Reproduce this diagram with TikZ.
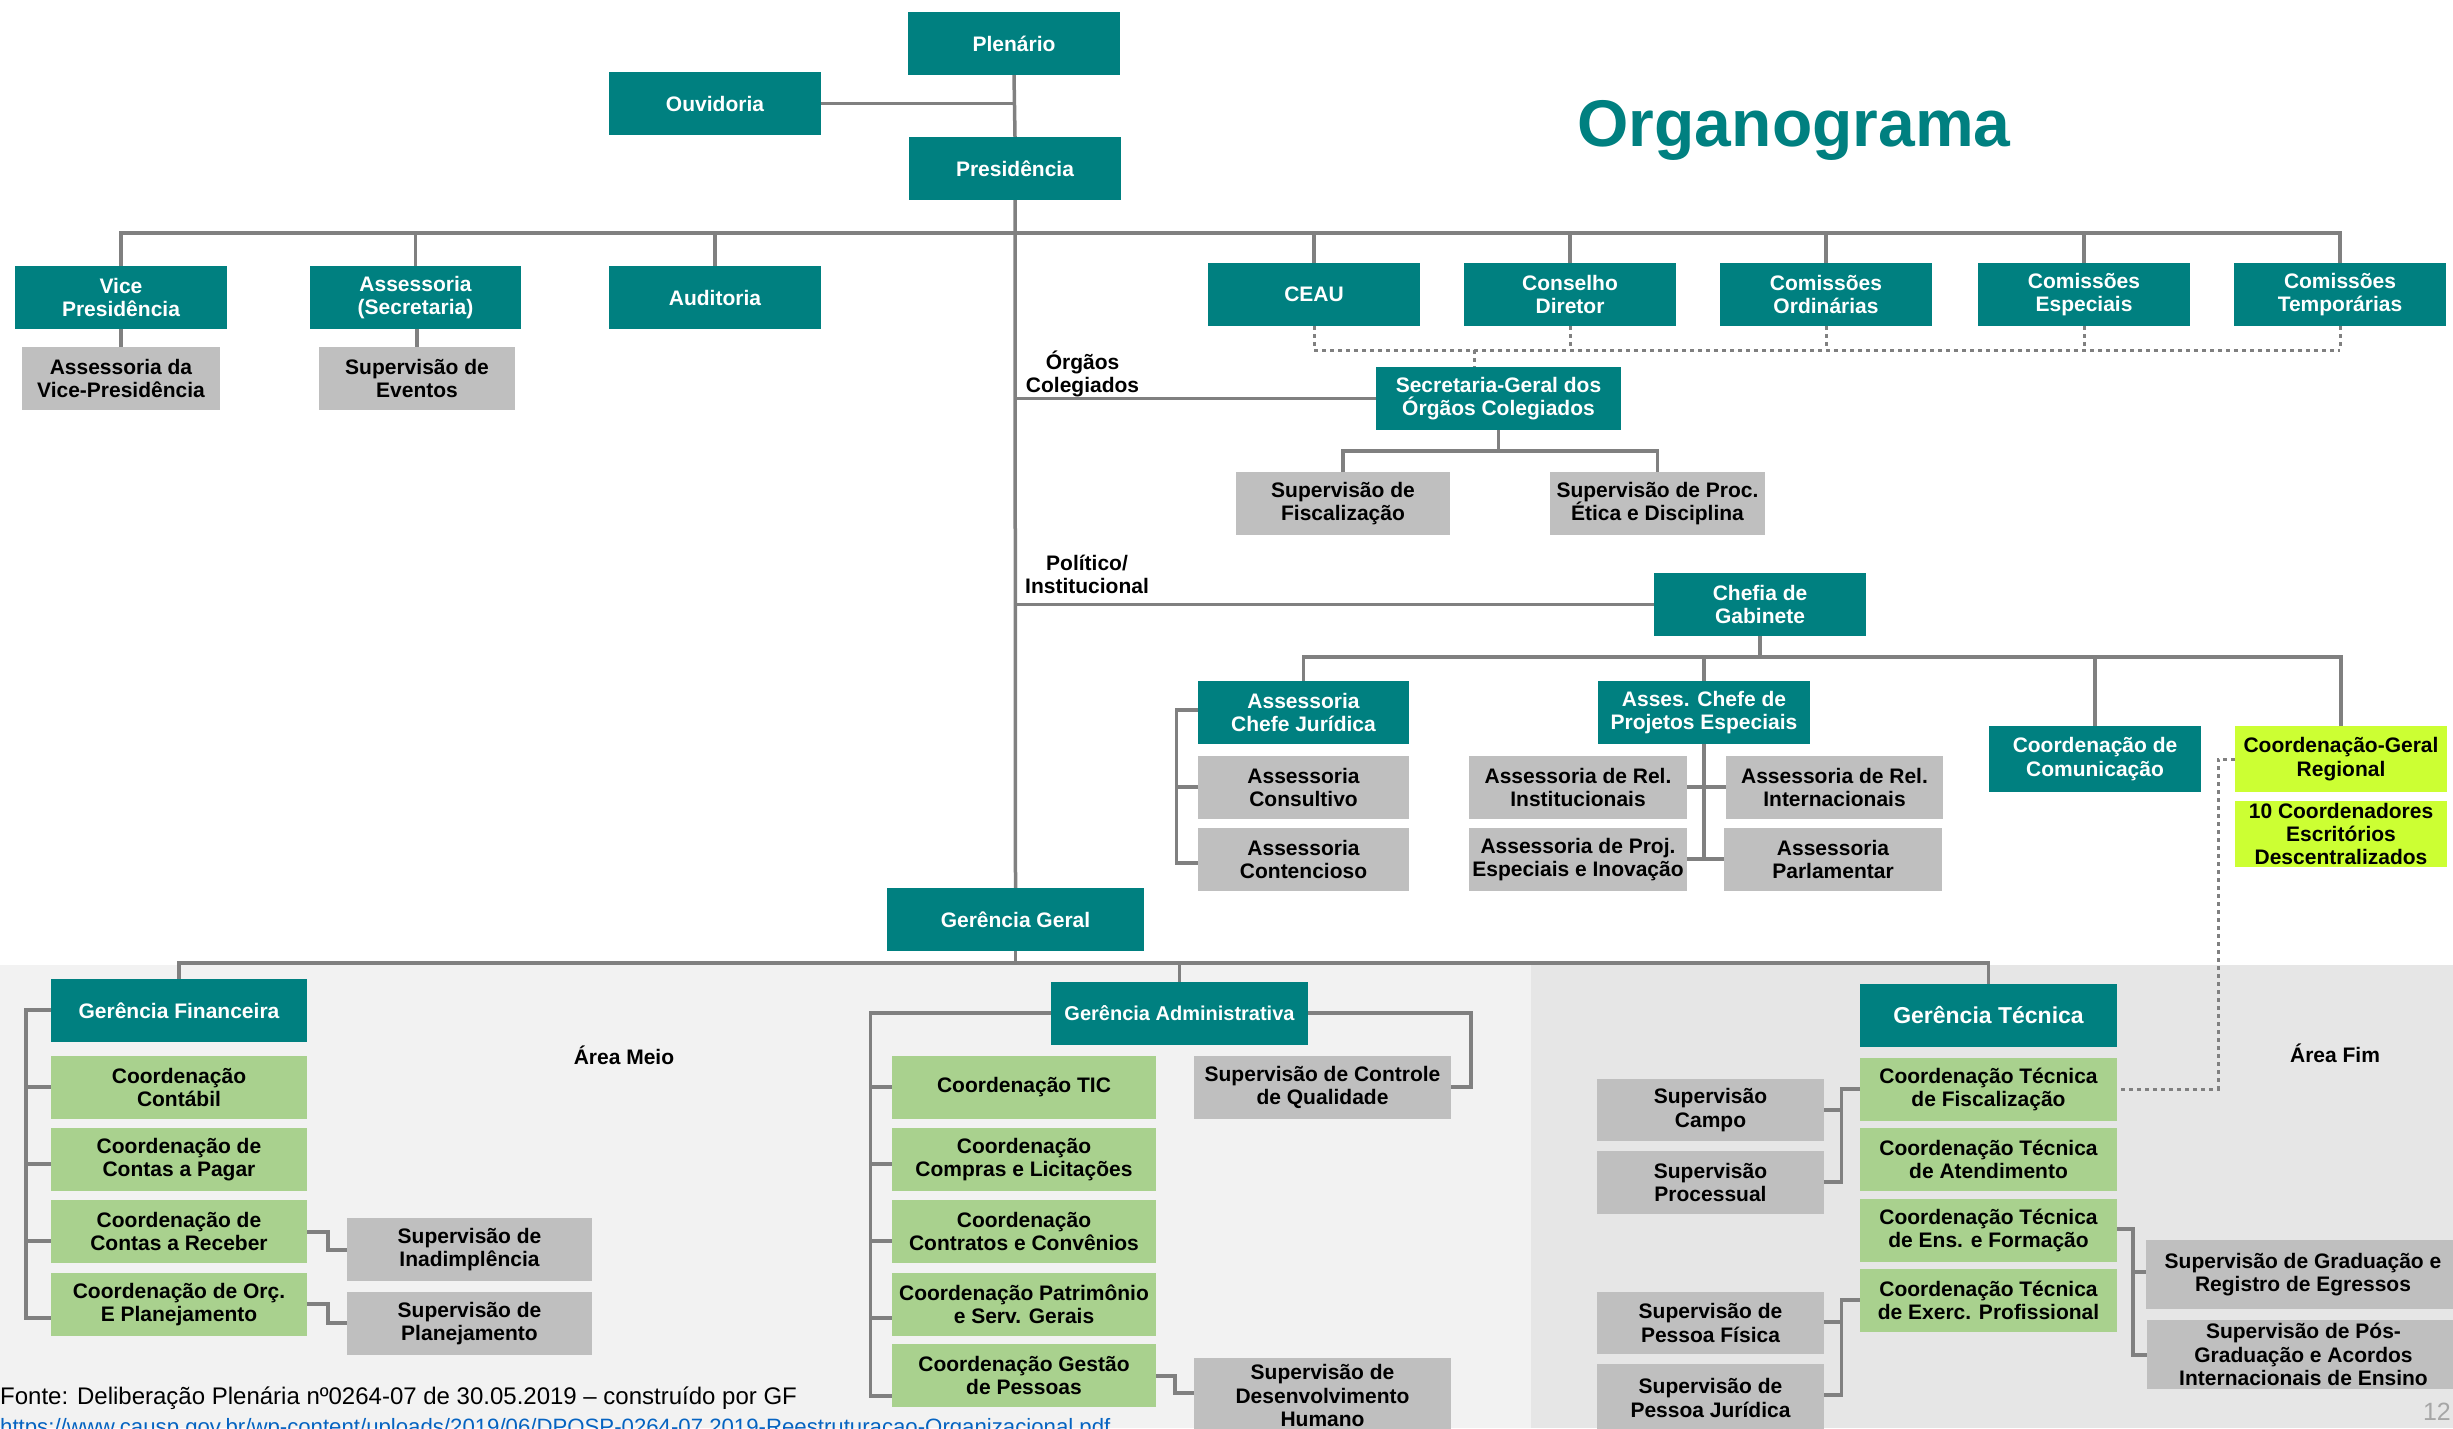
\documentclass[tikz,border=0pt]{standalone}
\usepackage{fontspec}
\setmainfont{Liberation Sans}
\definecolor{cteal}{RGB}{0,128,128}
\definecolor{cgray}{RGB}{191,191,191}
\definecolor{cgreen}{RGB}{169,209,142}
\definecolor{clime}{RGB}{204,255,51}
\definecolor{cline}{RGB}{128,128,128}
\definecolor{bgleft}{RGB}{242,242,242}
\definecolor{bgright}{RGB}{230,230,230}
\definecolor{curl}{RGB}{5,99,193}
\definecolor{cpage}{RGB}{166,166,166}
\newcommand\bx[6]{\node[#1, minimum width={(#4)-(#2)}, minimum height={(#5)-(#3)}] (#6) at ({((#2)+(#4))/2},{((#3)+(#5))/2})}
\tikzset{
  bfont/.style={font=\bfseries\fontsize{21}{23.3}\selectfont},
  basebox/.style={bfont, inner sep=0pt, align=center},
  tbox/.style={basebox, fill=cteal, text=white},
  gbox/.style={basebox, fill=cgray, text=black},
  grbox/.style={basebox, fill=cgreen, text=black},
  lbox/.style={basebox, fill=clime, text=black},
  lbl/.style={bfont, inner sep=0pt, align=center, text=black},
  conn/.style={draw=cline, line width=3.5pt},
  dotl/.style={draw=cline, line width=3pt, dash pattern=on 3.5pt off 4.5pt},
}
\begin{document}
\begin{tikzpicture}[x=1pt,y=-1pt]
\useasboundingbox (0,0) rectangle (2453,1428);
\clip (0,0) rectangle (2453,1428);
\fill[white] (0,0) rectangle (2453,1428);
\fill[bgleft] (0,965) rectangle (1531,1428);
\fill[bgright] (1531,965) rectangle (2453,1428);

% title
\node[font=\bfseries\fontsize{66}{70}\selectfont, text=cteal, anchor=base, inner sep=0pt] (title) at (1794,146) {Organograma};

% top
\bx{tbox}{908}{12}{1120}{75}{plen} {Plenário};
\bx{tbox}{609}{72}{821}{135}{ouv} {Ouvidoria};
\bx{tbox}{909}{137}{1121}{200}{pres} {Presidência};
\bx{tbox}{15}{266}{227}{329}{vice} {Vice\\Presidência};
\bx{tbox}{310}{266}{521}{329}{asse} {Assessoria\\(Secretaria)};
\bx{tbox}{609}{266}{821}{329}{aud} {Auditoria};
\bx{tbox}{1208}{263}{1420}{326}{ceau} {CEAU};
\bx{tbox}{1464}{263}{1676}{326}{cons} {Conselho\\Diretor};
\bx{tbox}{1720}{263}{1932}{326}{cord} {Comissões\\Ordinárias};
\bx{tbox}{1978}{263}{2190}{326}{cesp} {Comissões\\Especiais};
\bx{tbox}{2234}{263}{2446}{326}{ctemp} {Comissões\\Temporárias};
\bx{gbox}{22}{347}{220}{410}{avp} {Assessoria da\\Vice-Presidência};
\bx{gbox}{319}{347}{515}{410}{sev} {Supervisão de\\Eventos};
\bx{tbox}{1376}{367}{1621}{430}{sgoc} {Secretaria-Geral dos\\Órgãos Colegiados};
\bx{gbox}{1236}{472}{1450}{535}{sfis} {Supervisão de\\Fiscalização};
\bx{gbox}{1550}{472}{1765}{535}{setic} {Supervisão de Proc.\\Ética e Disciplina};

% chefia
\bx{tbox}{1654}{573}{1866}{636}{chefia} {Chefia de\\Gabinete};
\bx{tbox}{1198}{681}{1409}{744}{ajur} {Assessoria\\Chefe Jurídica};
\bx{gbox}{1198}{756}{1409}{819}{acons} {Assessoria\\Consultivo};
\bx{gbox}{1198}{828}{1409}{891}{acont} {Assessoria\\Contencioso};
\bx{tbox}{1598}{681}{1810}{744}{apes} {Asses. Chefe de\\Projetos Especiais};
\bx{gbox}{1469}{756}{1687}{819}{arinst} {Assessoria de Rel.\\Institucionais};
\bx{gbox}{1726}{756}{1943}{819}{arint} {Assessoria de Rel.\\Internacionais};
\bx{gbox}{1469}{828}{1687}{891}{apei} {Assessoria de Proj.\\Especiais e Inovação};
\bx{gbox}{1724}{828}{1942}{891}{apar} {Assessoria\\Parlamentar};
\bx{tbox}{1989}{726}{2201}{792}{ccom} {Coordenação de\\Comunicação};
\bx{lbox}{2235}{726}{2447}{792}{cgr} {Coordenação-Geral\\Regional};
\bx{lbox}{2235}{801}{2447}{867}{cdesc} {10 Coordenadores\\Escritórios\\Descentralizados};

% gerencias
\bx{tbox}{887}{888}{1144}{951}{gg} {Gerência Geral};
\bx{tbox}{51}{979}{307}{1042}{gf} {Gerência Financeira};
\bx{grbox}{51}{1056}{307}{1119}{ccont} {Coordenação\\Contábil};
\bx{grbox}{51}{1128}{307}{1191}{cpag} {Coordenação de\\Contas a Pagar};
\bx{grbox}{51}{1200}{307}{1263}{crec} {Coordenação de\\Contas a Receber};
\bx{grbox}{51}{1273}{307}{1336}{corc} {Coordenação de Orç.\\E Planejamento};
\bx{gbox}{347}{1218}{592}{1281}{sinad} {Supervisão de\\Inadimplência};
\bx{gbox}{347}{1292}{592}{1355}{splan} {Supervisão de\\Planejamento};

\bx{tbox,font=\bfseries\fontsize{20}{23.3}\selectfont}{1051}{982}{1308}{1045}{ga} {Gerência Administrativa};
\bx{grbox}{892}{1056}{1156}{1119}{ctic} {Coordenação TIC};
\bx{grbox}{892}{1128}{1156}{1191}{ccomp} {Coordenação\\Compras e Licitações};
\bx{grbox}{892}{1200}{1156}{1263}{ccontr} {Coordenação\\Contratos e Convênios};
\bx{grbox}{892}{1273}{1156}{1336}{cpat} {Coordenação Patrimônio\\e Serv. Gerais};
\bx{grbox}{892}{1344}{1156}{1407}{cgp} {Coordenação Gestão\\de Pessoas};
\bx{gbox}{1194}{1056}{1451}{1119}{sccq} {Supervisão de Controle\\de Qualidade};
\bx{gbox}{1194}{1358}{1451}{1433}{sdh} {Supervisão de\\Desenvolvimento\\Humano};

\bx{tbox,font=\bfseries\fontsize{23}{25}\selectfont}{1860}{984}{2117}{1047}{gt} {Gerência Técnica};
\bx{grbox}{1860}{1058}{2117}{1121}{ctf} {Coordenação Técnica\\de Fiscalização};
\bx{grbox}{1860}{1128}{2117}{1191}{cta} {Coordenação Técnica\\de Atendimento};
\bx{grbox}{1860}{1199}{2117}{1262}{cef} {Coordenação Técnica\\de Ens. e Formação};
\bx{grbox}{1860}{1269}{2117}{1332}{cep} {Coordenação Técnica\\de Exerc. Profissional};
\bx{gbox}{1597}{1079}{1824}{1141}{scampo} {Supervisão\\Campo};
\bx{gbox}{1597}{1151}{1824}{1214}{sproc} {Supervisão\\Processual};
\bx{gbox}{1597}{1292}{1824}{1354}{spf} {Supervisão de\\Pessoa Física};
\bx{gbox}{1597}{1364}{1824}{1432}{spj} {Supervisão de\\Pessoa Jurídica};
\bx{gbox}{2146}{1240}{2460}{1309}{sgrad} {Supervisão de Graduação e\\Registro de Egressos};
\bx{gbox}{2147}{1320}{2460}{1389}{spos} {Supervisão de Pós-\\Graduação e Acordos\\Internacionais de Ensino};

% labels
\node[lbl] (orgcol) at (1082.5,374) {Órgãos\\Colegiados};
\node[lbl] (polinst) at (1087,574.5) {Político/\\Institucional};
\node[lbl] (ameio) at (624,1055) {Área Meio};
\node[lbl] (afim) at (2335,1053) {Área Fim};
\node[font=\fontsize{24}{26}\selectfont, anchor=base west, inner sep=0pt] (fonte) at (0,1404) {Fonte: Deliberação Plenária nº0264-07 de 30.05.2019 – construído por GF};
\node[font=\fontsize{22.2}{26}\selectfont, text=curl, anchor=base west, inner sep=0pt] (url) at (0,1434) {https://www.causp.gov.br/wp-content/uploads/2019/06/DPOSP-0264-07.2019-Reestruturacao-Organizacional.pdf};
\node[font=\fontsize{25}{27}\selectfont, text=cpage, anchor=base east, inner sep=0pt] (pgnum) at (2451,1420) {12};

% connectors: top
\draw[conn] (plen.south) -- (pres.north);
\draw[conn] (ouv.east) -- (ouv.east -| plen.south);
\draw[conn] (pres.south) -- (gg.north);
\draw[conn] (vice.north) |- (ctemp.north |- 0,233) -- (ctemp.north);
\foreach \n in {asse,aud,ceau,cons,cord,cesp}
  \draw[conn] (\n.north) -- (\n.north |- 0,233);
\draw[conn] (vice.south) -- (avp.north);
\draw[conn] (sev.north) -- (sev.north |- asse.south);
\draw[conn] (sgoc.west) -- (sgoc.west -| pres.south);
\foreach \n in {ceau,cons,cord,cesp,ctemp}
  \draw[dotl] (\n.south) -- (\n.south |- 0,350);
\draw[dotl] (ceau.south |- 0,350) -- (ctemp.south |- 0,350);
\draw[dotl] (1474,350) -- (1474,0 |- sgoc.north);
\draw[conn] (sgoc.south) -- (sgoc.south |- 0,451);
\draw[conn] (sfis.north) |- (setic.north |- 0,451) -- (setic.north);

% chefia
\draw[conn] (chefia.west) -- (chefia.west -| pres.south);
\draw[conn] (chefia.south) -- (chefia.south |- 0,657);
\draw[conn] (ajur.north) |- (cgr.north |- 0,657) -- (cgr.north);
\foreach \n in {apes,ccom}
  \draw[conn] (\n.north) -- (\n.north |- 0,657);
\draw[conn] (ajur.west |- 0,710) -- (1176.7,710) -- (1176.7,863) -- (acont.west |- 0,863);
\draw[conn] (1176.7,787) -- (acons.west |- 0,787);
\draw[conn] (apes.south) -- (apes.south |- 0,859);
\draw[conn] (arinst.east |- 0,787) -- (arint.west |- 0,787);
\draw[conn] (apei.east |- 0,859) -- (apar.west |- 0,859);
\draw[dotl] (cgr.west |- 0,759) -- (2218,759) -- (2218,1089) -- (ctf.east |- 0,1089);

% gerencia geral bus
\draw[conn] (gg.south) -- (gg.south |- 0,963);
\draw[conn] (gf.north) |- (gt.north |- 0,963) -- (gt.north);
\draw[conn] (ga.north) -- (ga.north |- 0,963);

% financeira
\draw[conn] (gf.west |- 0,1010) -- (25.8,1010) -- (25.8,1318) -- (corc.west |- 0,1318);
\draw[conn] (25.8,1087) -- (ccont.west |- 0,1087);
\draw[conn] (25.8,1164) -- (cpag.west |- 0,1164);
\draw[conn] (25.8,1241) -- (crec.west |- 0,1241);
\draw[conn] (crec.east |- 0,1232) -- (328,1232) -- (328,1250) -- (sinad.west |- 0,1250);
\draw[conn] (corc.east |- 0,1304) -- (328,1304) -- (328,1323) -- (splan.west |- 0,1323);

% administrativa
\draw[conn] (ga.west |- 0,1013) -- (870.6,1013) -- (870.6,1396) -- (cgp.west |- 0,1396);
\draw[conn] (870.6,1087) -- (ctic.west |- 0,1087);
\draw[conn] (870.6,1164) -- (ccomp.west |- 0,1164);
\draw[conn] (870.6,1241) -- (ccontr.west |- 0,1241);
\draw[conn] (870.6,1318) -- (cpat.west |- 0,1318);
\draw[conn] (ga.east |- 0,1013) -- (1471,1013) -- (1471,1087) -- (sccq.east |- 0,1087);
\draw[conn] (cgp.east |- 0,1376) -- (1175,1376) -- (1175,1393) -- (sdh.west |- 0,1393);

% tecnica
\draw[conn] (ctf.west |- 0,1089) -- (1841.5,1089) -- (1841.5,1182) -- (sproc.east |- 0,1182);
\draw[conn] (1841.5,1110) -- (scampo.east |- 0,1110);
\draw[conn] (cep.west |- 0,1300) -- (1841.5,1300) -- (1841.5,1395) -- (spj.east |- 0,1395);
\draw[conn] (1841.5,1322) -- (spf.east |- 0,1322);
\draw[conn] (cef.east |- 0,1229) -- (2133,1229) -- (2133,1355) -- (spos.west |- 0,1355);
\draw[conn] (2133,1272) -- (sgrad.west |- 0,1272);
\end{tikzpicture}
\end{document}
